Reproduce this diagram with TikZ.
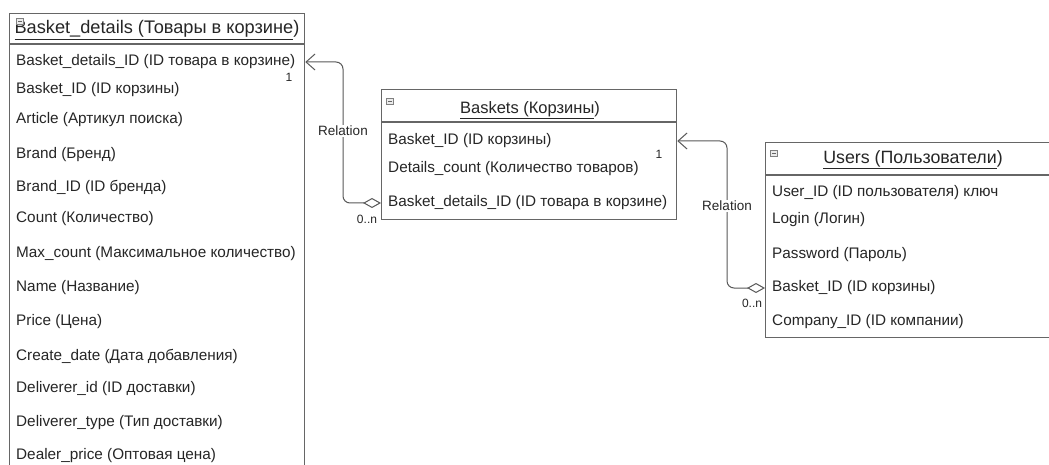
\documentclass[tikz,border=0pt]{standalone}
\usepackage{fontspec}
\setmainfont{Liberation Sans}
\usetikzlibrary{arrows.meta}

\tikzset{
    tbl/.style={draw=black!60, line width=1.3pt, fill=white, inner sep=0pt, anchor=north west},
    sep/.style={draw=black!60, line width=1.3pt},
    ttl/.style={inner sep=0pt, text=black!85, font=\fontsize{16.5}{18}\selectfont},
    row/.style={anchor=west, inner sep=0pt, text=black!85, font=\fontsize{15.3}{17}\selectfont},
    icon/.style={draw=black!50, fill=black!8, line width=0.6pt, minimum width=7pt, minimum height=6pt, inner sep=0pt,
        path picture={\draw[black!60, line width=0.6pt] ([xshift=1.5pt]path picture bounding box.west) -- ([xshift=-1.5pt]path picture bounding box.east);}},
    rel/.style={draw=black!65, line width=1pt, rounded corners=7pt,
        arrows={Diamond[open,length=18pt,width=10pt]-Straight Barb[length=9pt,width=16pt]}},
    lbl/.style={fill=white, inner sep=1pt, text=black!85, font=\fontsize{13.5}{15}\selectfont},
    mult/.style={inner sep=0pt, text=black!85, font=\fontsize{12}{13}\selectfont}
}

\begin{document}
\begin{tikzpicture}[x=1pt, y=-1pt]
    \clip (0,0) rectangle (1049,465);
    \fill[white] (0,0) rectangle (1049,465);

    \node[tbl, minimum width=295pt, minimum height=480pt] (details) at (9,13) {};
    \draw[sep] (9,44) -- (304,44);
    \node[ttl, font=\fontsize{18.2}{20}\selectfont] (detailsttl) at (157,30) {\underline{Basket\_details (Товары в корзине})};
    \node[icon] (detailsicon) at (20,21) {};
    \node[row] (bd1)  at (16, 62) {Basket\_details\_ID (ID товара в корзине)};
    \node[row] (bd2)  at (16, 90) {Basket\_ID (ID корзины)};
    \node[row] (bd3)  at (16,120) {Article (Артикул поиска)};
    \node[row] (bd4)  at (16,155) {Brand (Бренд)};
    \node[row] (bd5)  at (16,187) {Brand\_ID (ID бренда)};
    \node[row] (bd6)  at (16,219) {Count (Количество)};
    \node[row] (bd7)  at (16,254) {Max\_count (Максимальное количество)};
    \node[row] (bd8)  at (16,288) {Name (Название)};
    \node[row] (bd9)  at (16,322) {Price (Цена)};
    \node[row] (bd10) at (16,356) {Create\_date (Дата добавления)};
    \node[row] (bd11) at (16,389) {Deliverer\_id (ID доставки)};
    \node[row] (bd12) at (16,423) {Deliverer\_type (Тип доставки)};
    \node[row] (bd13) at (16,456) {Dealer\_price (Оптовая цена)};

    \node[tbl, minimum width=295pt, minimum height=130pt] (baskets) at (381,89) {};
    \draw[sep] (381,122) -- (676,122);
    \node[ttl] (basketsttl) at (530,110) {\underline{Baskets (Корзины})};
    \node[icon] (basketsicon) at (390,101) {};
    \node[row] (bs1) at (388,141) {Basket\_ID (ID корзины)};
    \node[row] (bs2) at (388,169) {Details\_count (Количество товаров)};
    \node[row] (bs3) at (388,203) {Basket\_details\_ID (ID товара в корзине)};

    \node[tbl, minimum width=300pt, minimum height=195pt] (users) at (765,142) {};
    \draw[sep] (765,175) -- (1065,175);
    \node[ttl, font=\fontsize{17.8}{19}\selectfont] (usersttl) at (913,160) {\underline{Users (Пользователи})};
    \node[icon] (usersicon) at (774,153) {};
    \node[row] (us1) at (772,193) {User\_ID (ID пользователя) ключ};
    \node[row] (us2) at (772,220) {Login (Логин)};
    \node[row] (us3) at (772,255) {Password (Пароль)};
    \node[row] (us4) at (772,288) {Basket\_ID (ID корзины)};
    \node[row] (us5) at (772,322) {Company\_ID (ID компании)};

    \draw[rel] (baskets.west |- bs3) -- ++(-38,0) |- (details.east |- bd1);
    \draw[rel] (users.west |- us4) -- ++(-38,0) |- (baskets.east |- bs1);

    \node[lbl] (rel1) at (343,131) {Relation};
    \node[lbl] (rel2) at (727,206) {Relation};
    \node[mult] (m1) at (289,77) {1};
    \node[mult] (m2) at (367,219) {0..n};
    \node[mult] (m3) at (659,154) {1};
    \node[mult] (m4) at (752,303) {0..n};
\end{tikzpicture}
\end{document}
